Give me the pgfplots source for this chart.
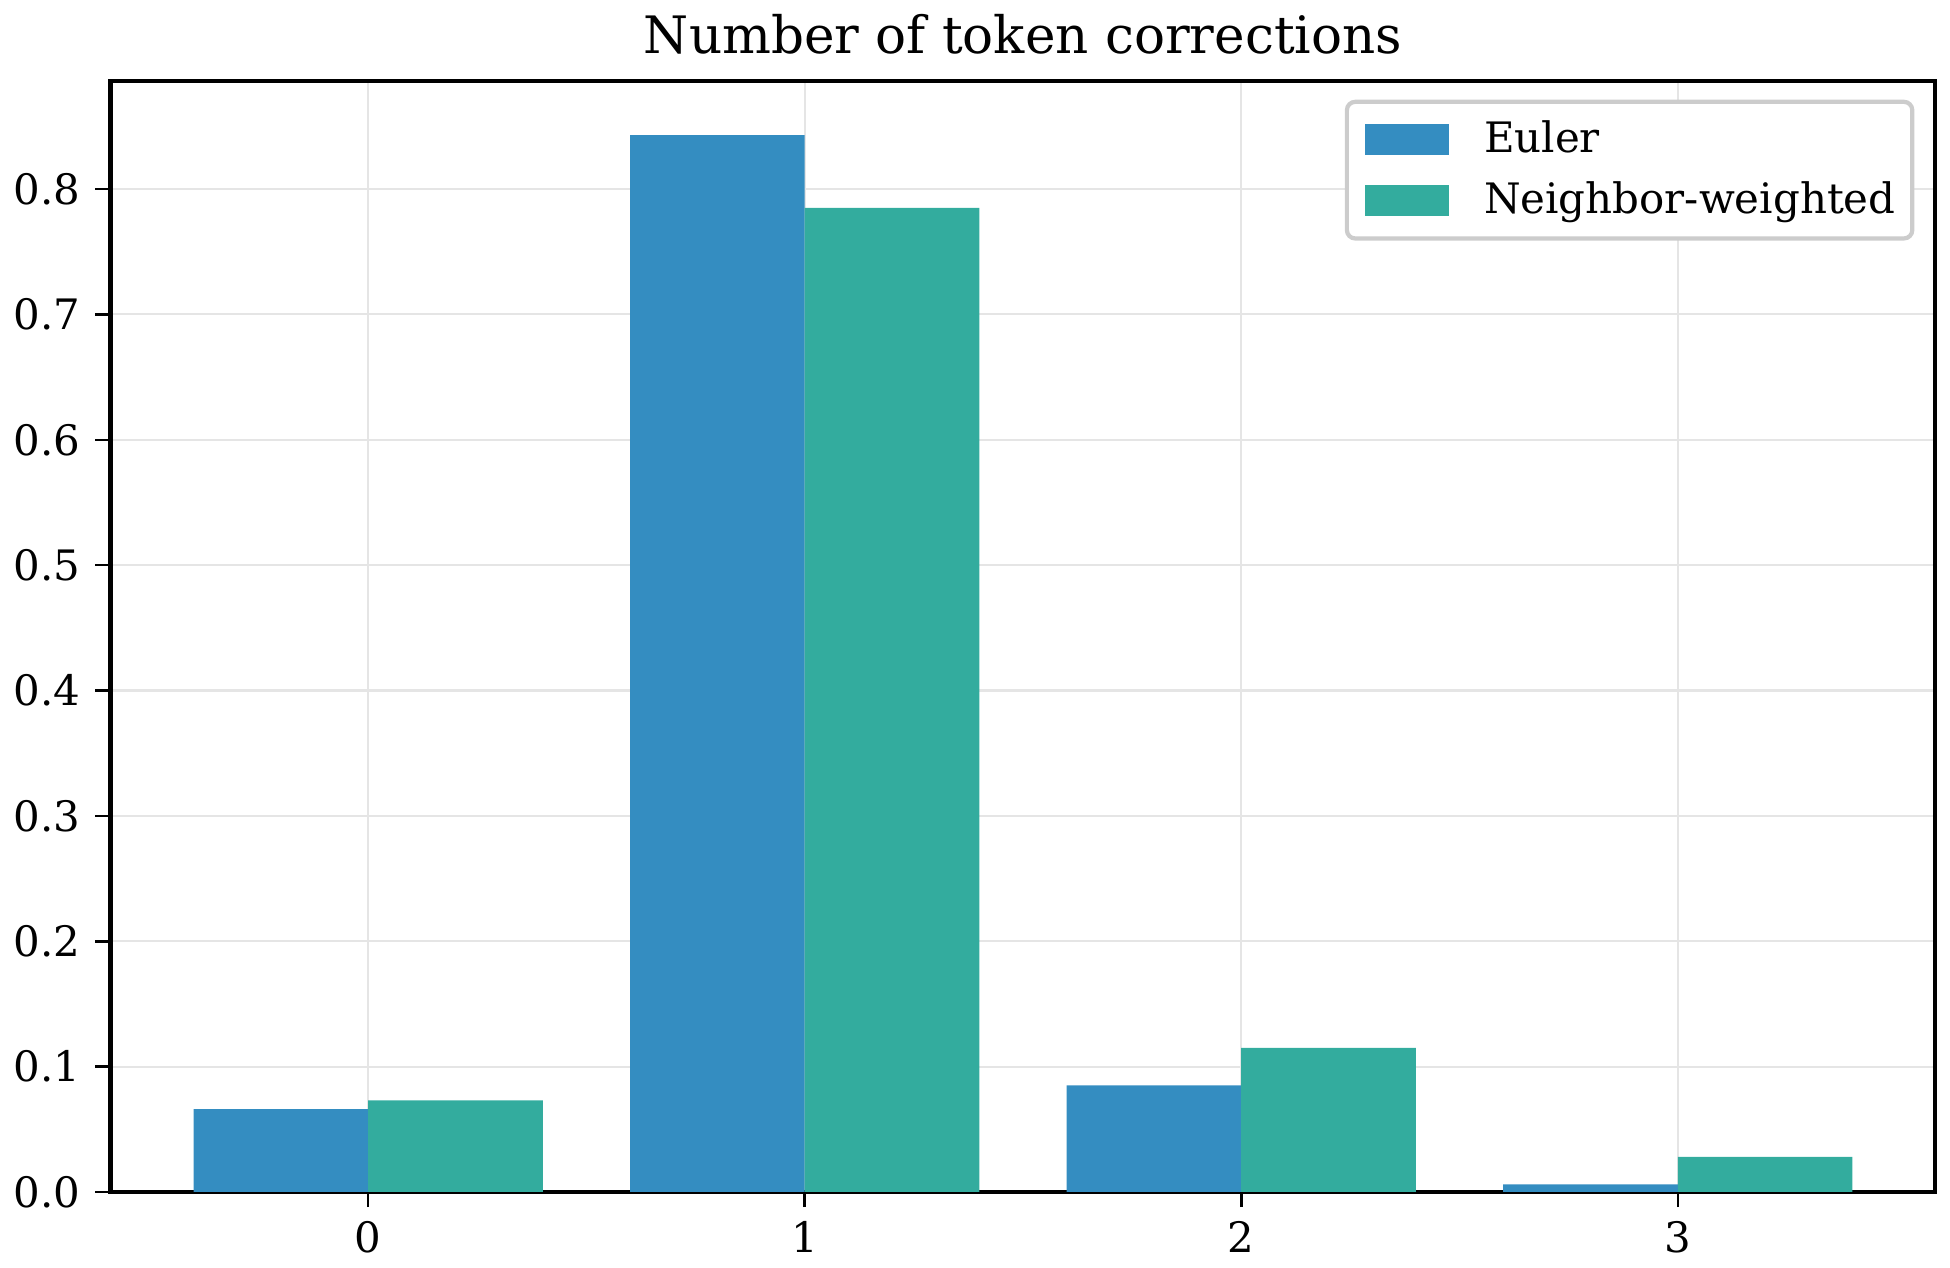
\documentclass[border=0pt]{standalone}
\usepackage{pgfplots}
\pgfplotsset{compat=1.18}
\usepackage{fontspec}
\setmainfont{DejaVu Serif}
\definecolor{cblue}{RGB}{52,141,193}
\definecolor{cteal}{RGB}{51,172,158}
\definecolor{gridc}{RGB}{229,229,229}
\begin{document}
\begin{tikzpicture}
\begin{axis}[
  scale only axis,
  width=435.2pt, height=264.9pt,
  xmin=-0.59, xmax=3.59,
  ymin=0, ymax=0.886,
  xtick={0,1,2,3},
  ytick={0,0.1,0.2,0.3,0.4,0.5,0.6,0.7,0.8},
  yticklabel style={/pgf/number format/.cd, fixed, fixed zerofill, precision=1},
  /pgf/number format/assume math mode=true,
  ticklabel style={font=\fontsize{10}{12}\selectfont},
  tick style={black, line width=0.6pt},
  major tick length=3.6pt,
  tick align=outside,
  xtick pos=bottom, ytick pos=left,
  axis line style={black, line width=1pt},
  grid=major,
  major grid style={gridc, line width=0.5pt},
  title={Number of token corrections},
  title style={font=\fontsize{12.3}{14}\selectfont, yshift=-3pt},
  ybar, bar width=0.4,
  legend style={at={(1,1)}, anchor=north east, xshift=-5pt, yshift=-4.4pt,
    draw=black!20, line width=1pt, rounded corners=2pt,
    font=\fontsize{10}{12}\selectfont, row sep=1.6pt,
    inner xsep=2pt, inner ysep=2.4pt},
  legend cell align=left,
  legend image code/.code={\fill[#1, sharp corners, draw=none] (0pt,-3.7pt) rectangle (20.2pt,3.7pt); \path (-2.2pt,0pt) (26.5pt,0pt);},
]
\addplot[fill=cblue, draw=none, bar shift=-0.2] coordinates {(0,0.066) (1,0.843) (2,0.085) (3,0.006)};
\addlegendentry{Euler}
\addplot[fill=cteal, draw=none, bar shift=0.2] coordinates {(0,0.073) (1,0.785) (2,0.115) (3,0.028)};
\addlegendentry{Neighbor-weighted}
\end{axis}
\path (current axis.south east) ++(3.5pt,0pt);
\end{tikzpicture}
\end{document}
